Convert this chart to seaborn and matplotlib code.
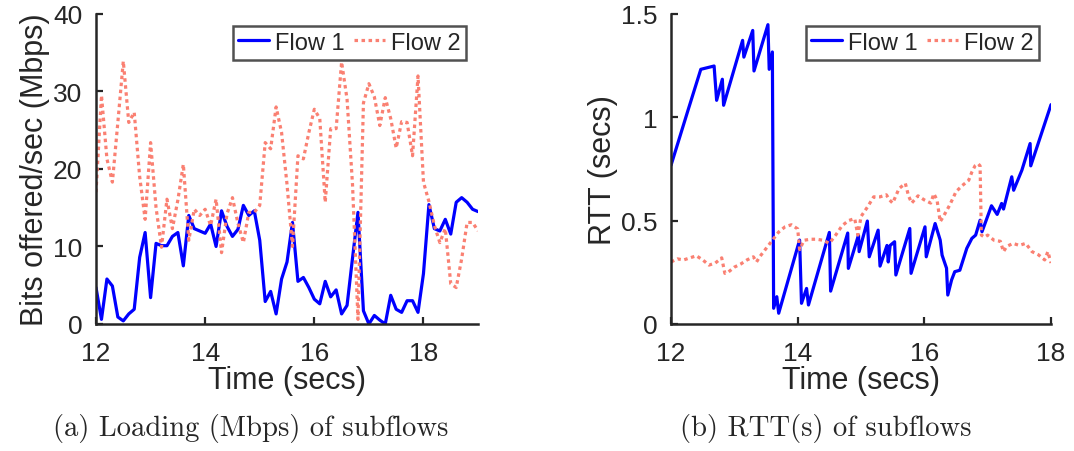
import matplotlib
matplotlib.use("Agg")
import matplotlib.pyplot as plt
import numpy as np
import pandas as pd
import seaborn as sns

# (a) loading of subflows, sampled every 0.1 s from 12 to 19 s
load_time = np.round(np.arange(12.0, 19.01, 0.1), 1)
load_flow1 = [4.7, 0.6, 5.8, 4.9, 0.9, 0.4, 1.3, 1.9, 8.6, 11.8,
              3.4, 10.4, 10.1, 10.1, 11.3, 11.8, 7.5, 14.0, 12.3, 12.0,
              11.7, 12.9, 10.0, 14.6, 12.6, 11.3, 12.2, 15.3, 14.0, 14.6,
              10.8, 2.9, 4.2, 1.3, 5.8, 8.0, 13.1, 5.5, 6.0, 4.7,
              3.2, 2.6, 5.5, 3.5, 4.4, 1.3, 2.4, 8.5, 14.4, 1.7,
              0.0, 1.1, 0.5, 0.0, 3.7, 1.9, 1.5, 3.0, 3.0, 1.5,
              6.5, 15.4, 12.3, 12.0, 13.5, 11.6, 15.7, 16.3, 15.7, 14.8,
              14.5]
load_flow2 = [17.0, 29.5, 21.3, 18.3, 26.0, 33.9, 26.0, 27.3, 19.0, 13.5,
              23.4, 15.0, 9.9, 16.1, 12.3, 16.0, 20.6, 10.8, 14.8, 14.0,
              14.8, 12.7, 16.1, 9.2, 14.2, 16.3, 13.0, 10.5, 14.4, 14.4,
              15.3, 23.4, 22.6, 28.0, 24.7, 18.0, 10.0, 21.7, 21.3, 24.7,
              27.7, 26.5, 15.7, 25.2, 25.2, 33.8, 29.0, 18.0, 0.6, 28.5,
              31.0, 29.3, 25.6, 29.2, 26.5, 22.7, 26.1, 26.0, 21.7, 32.0,
              18.3, 15.8, 12.7, 10.5, 12.3, 5.2, 4.7, 8.4, 13.1, 13.1,
              12.0]

# (b) RTT of subflows
rtt1_time = [12.00, 12.26, 12.47, 12.68, 12.72, 12.81, 12.83, 13.13, 13.15, 13.29,
             13.31, 13.53, 13.55, 13.60, 13.62, 13.67, 13.70, 14.03, 14.06, 14.14,
             14.17, 14.50, 14.52, 14.79, 14.80, 14.96, 14.97, 15.10, 15.13, 15.27,
             15.30, 15.41, 15.43, 15.46, 15.53, 15.55, 15.77, 15.79, 16.01, 16.03,
             16.17, 16.25, 16.28, 16.35, 16.37, 16.43, 16.48, 16.56, 16.67, 16.75,
             16.81, 16.88, 16.91, 17.06, 17.15, 17.22, 17.25, 17.38, 17.41, 17.54,
             17.67, 17.68, 18.00]
rtt1 = [0.768, 1.026, 1.232, 1.248, 1.082, 1.184, 1.058, 1.372, 1.291, 1.420,
        1.224, 1.448, 1.232, 1.316, 0.076, 0.132, 0.052, 0.406, 0.100, 0.172,
        0.092, 0.443, 0.159, 0.440, 0.269, 0.430, 0.350, 0.498, 0.325, 0.454,
        0.280, 0.380, 0.300, 0.380, 0.398, 0.237, 0.462, 0.245, 0.470, 0.325,
        0.486, 0.406, 0.333, 0.270, 0.140, 0.213, 0.253, 0.260, 0.366, 0.414,
        0.430, 0.502, 0.446, 0.572, 0.530, 0.583, 0.556, 0.712, 0.647, 0.744,
        0.873, 0.765, 1.061]
rtt2_time = [12.0, 12.1, 12.2, 12.3, 12.4, 12.5, 12.6, 12.7, 12.8, 12.85,
             12.9, 13.0, 13.1, 13.2, 13.3, 13.35, 13.4, 13.5, 13.6, 13.7,
             13.8, 13.9, 14.0, 14.03, 14.1, 14.2, 14.3, 14.4, 14.5, 14.6,
             14.7, 14.8, 14.9, 14.95, 15.0, 15.1, 15.2, 15.3, 15.4, 15.45,
             15.5, 15.6, 15.7, 15.75, 15.8, 15.9, 16.0, 16.1, 16.15, 16.2,
             16.25, 16.3, 16.4, 16.5, 16.6, 16.7, 16.75, 16.8, 16.85, 16.88,
             16.9, 16.95, 17.0, 17.1, 17.2, 17.25, 17.3, 17.4, 17.5, 17.6,
             17.7, 17.8, 17.9, 17.95, 18.0]
rtt2 = [0.300, 0.315, 0.310, 0.320, 0.330, 0.310, 0.285, 0.295, 0.320, 0.245,
        0.250, 0.275, 0.290, 0.310, 0.325, 0.300, 0.325, 0.365, 0.405, 0.445,
        0.470, 0.480, 0.460, 0.360, 0.405, 0.410, 0.410, 0.405, 0.390, 0.430,
        0.475, 0.500, 0.510, 0.430, 0.520, 0.565, 0.615, 0.615, 0.625, 0.600,
        0.585, 0.655, 0.680, 0.620, 0.585, 0.620, 0.600, 0.585, 0.630, 0.600,
        0.495, 0.520, 0.575, 0.640, 0.670, 0.695, 0.735, 0.765, 0.775, 0.765,
        0.430, 0.420, 0.430, 0.405, 0.400, 0.350, 0.375, 0.390, 0.380, 0.390,
        0.350, 0.335, 0.310, 0.350, 0.295]

blue = "#0000FF"
salmon = "#FA8072"
ink = "#262626"
dotted = (0, (1.1, 1.1))

sns.set_theme(style="ticks")
plt.rcParams["font.family"] = ["Liberation Sans", "DejaVu Sans"]
plt.rcParams["xtick.direction"] = "in"
plt.rcParams["ytick.direction"] = "in"

fig = plt.figure(figsize=(10.74, 4.52), dpi=100)
ax1 = fig.add_axes([0.0894, 0.281, 0.3557, 0.686])
ax2 = fig.add_axes([0.6248, 0.281, 0.3538, 0.686])

sns.lineplot(x=load_time, y=load_flow1, ax=ax1, color=blue, lw=2.3,
             estimator=None, label="Flow 1")
sns.lineplot(x=load_time, y=load_flow2, ax=ax1, color=salmon, lw=2.3,
             linestyle=dotted, estimator=None, label="Flow 2")
sns.lineplot(x=rtt1_time, y=rtt1, ax=ax2, color=blue, lw=2.3,
             estimator=None, sort=False, label="Flow 1")
sns.lineplot(x=rtt2_time, y=rtt2, ax=ax2, color=salmon, lw=2.3,
             linestyle=dotted, estimator=None, sort=False, label="Flow 2")

ax1.set_xlim(12, 19)
ax1.set_ylim(0, 40)
ax1.set_xticks([12, 14, 16, 18])
ax1.set_yticks([0, 10, 20, 30, 40])
ax1.set_ylabel("Bits offered/sec (Mbps)", fontsize=22, color=ink, labelpad=2)

ax2.set_xlim(12, 18)
ax2.set_ylim(0, 1.5)
ax2.set_xticks([12, 14, 16, 18])
ax2.set_yticks([0, 0.5, 1, 1.5])
ax2.set_yticklabels(["0", "0.5", "1", "1.5"])
ax2.set_ylabel("RTT (secs)", fontsize=22, color=ink, labelpad=2)

for ax in (ax1, ax2):
    ax.set_xlabel("Time (secs)", fontsize=22, color=ink, labelpad=0.5)
    ax.tick_params(labelsize=19, colors=ink, length=5, width=1.6)
    ax.tick_params(axis="x", pad=12)
    ax.tick_params(axis="y", pad=10)
    for side in ("left", "bottom"):
        ax.spines[side].set_linewidth(1.8)
        ax.spines[side].set_color(ink)
    sns.despine(ax=ax)
    leg = ax.legend(loc="upper right", ncol=2, fontsize=17, frameon=True,
                    fancybox=False, handlelength=1.3, handletextpad=0.25,
                    columnspacing=0.4, borderpad=0.25, borderaxespad=0.5)
    leg.get_frame().set_edgecolor(ink)
    leg.get_frame().set_linewidth(1.8)

fig.text(0.233, 0.053, "(a) Loading (Mbps) of subflows", ha="center", va="center",
         fontsize=20.6, family="cmr10")
fig.text(0.769, 0.053, "(b) RTT(s) of subflows", ha="center", va="center",
         fontsize=20.6, family="cmr10")

fig.savefig("out.png", dpi=100)
